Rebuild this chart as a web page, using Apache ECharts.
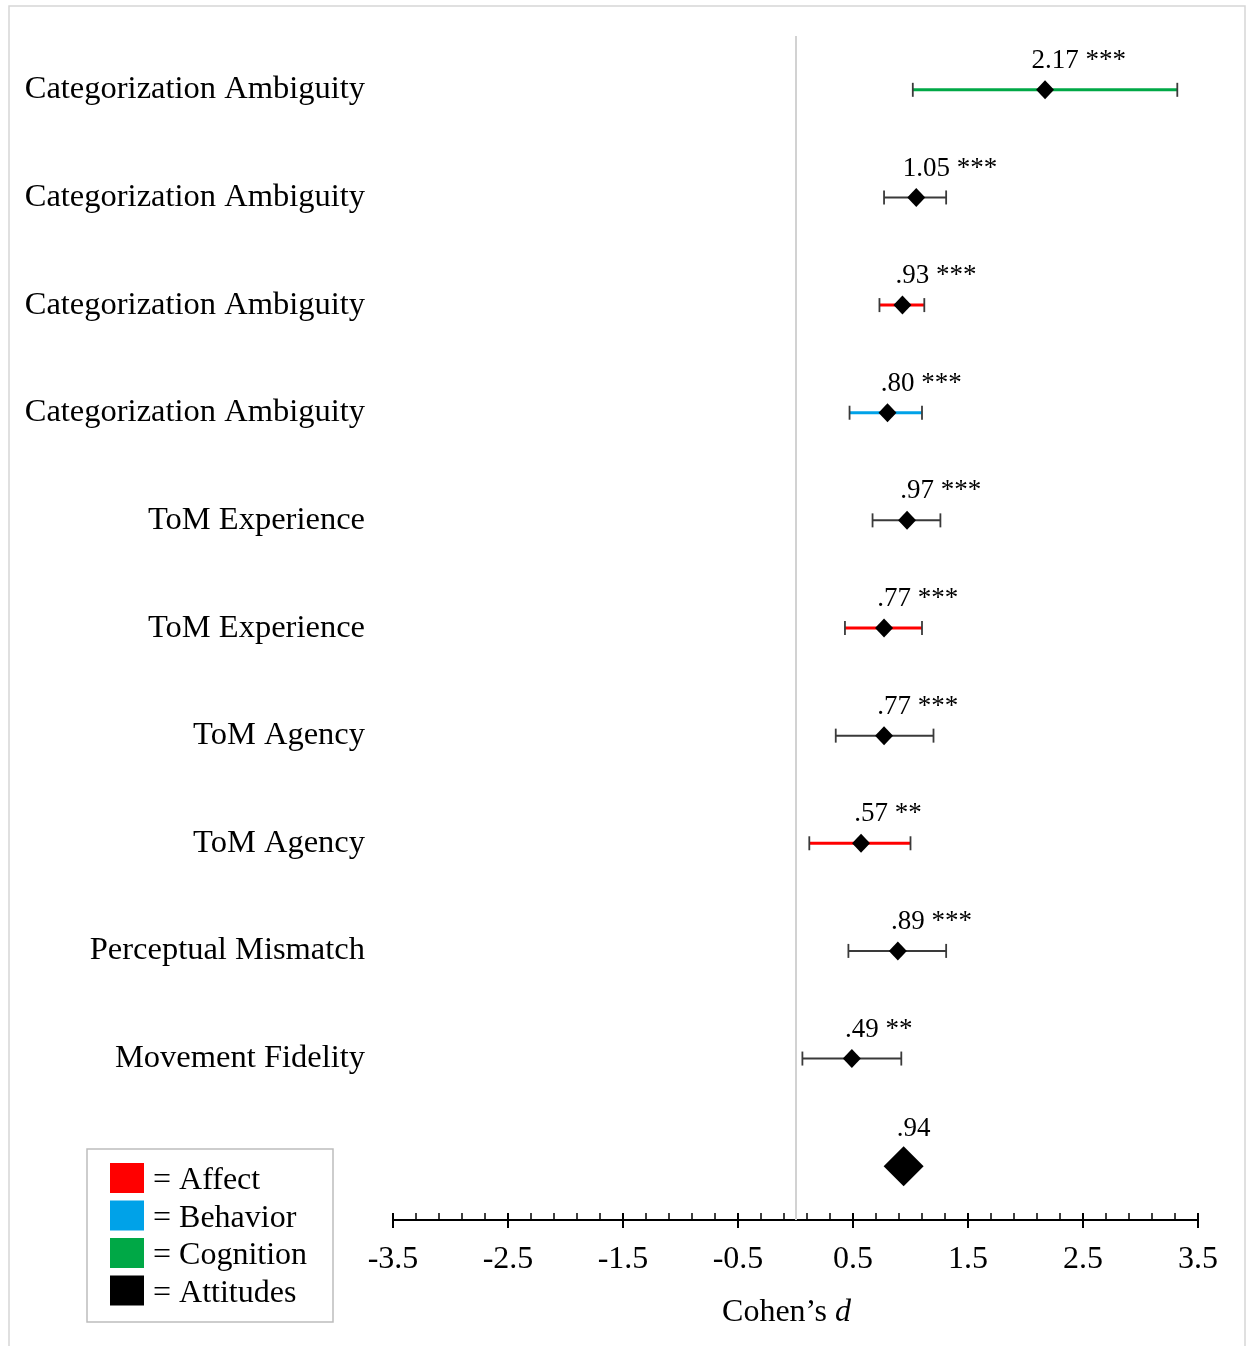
<!DOCTYPE html>
<html><head><meta charset="utf-8">
<script src="https://cdn.jsdelivr.net/npm/echarts@6/dist/echarts.min.js"></script>
<style>html,body{margin:0;padding:0;background:#fff}#c{width:1247px;height:1346px}</style>
</head><body><div id="c"></div>
<script>
// ---- data ----
const categories = ['Categorization Ambiguity','Categorization Ambiguity','Categorization Ambiguity','Categorization Ambiguity','ToM Experience','ToM Experience','ToM Agency','ToM Agency','Perceptual Mismatch','Movement Fidelity',''];
const effectD = [2.17, 1.05, 0.93, 0.80, 0.97, 0.77, 0.77, 0.57, 0.89, 0.49, 0.94];
const ciLow  = [1.02, 0.77, 0.73, 0.47, 0.67, 0.43, 0.35, 0.12, 0.46, 0.06, null];
const ciHigh = [3.32, 1.31, 1.12, 1.10, 1.26, 1.10, 1.20, 1.00, 1.31, 0.92, null];
const effectLabels = ['2.17','1.05','.93','.80','.97','.77','.77','.57','.89','.49','.94'];
const sigStars = ['***','***','***','***','***','***','***','**','***','**',''];
const domain = ['Cognition','Attitudes','Affect','Behavior','Attitudes','Affect','Attitudes','Affect','Attitudes','Attitudes','Summary'];
const legendNames = ['Affect','Behavior','Cognition','Attitudes'];
const xTickLabels = ['-3.5','-2.5','-1.5','-0.5','0.5','1.5','2.5','3.5'];
const xMin = -3.5, xMax = 3.5;

const FONT = "'Liberation Serif','Times New Roman',serif";
const domainColor = {Affect:'#ff0000', Behavior:'#00a2e8', Cognition:'#00a846', Attitudes:'#000000'};

const cv = document.createElement('canvas').getContext('2d');
cv.font = "27px 'Liberation Serif'";
function tw(s){ return cv.measureText(s).width; }

const nRows = categories.length;
const barData = [], markData = [], sumData = [], labData = [];
for (let i = 0; i < nRows; i++) {
  if (domain[i] === 'Summary') sumData.push([effectD[i], i]);
  else {
    barData.push([ciLow[i], i, ciHigh[i], i]);
    markData.push([effectD[i], i]);
  }
  labData.push([effectD[i], i, i]);
}

const chart = echarts.init(document.getElementById('c'), null, {renderer:'canvas'});
const tickAxisBase = {
  type:'value', gridIndex:0, position:'bottom', min:0, max:xTickLabels.length-1, interval:1,
  splitLine:{show:false}
};
chart.setOption({
  animation:false,
  backgroundColor:'#fff',
  grid:{left:393, right:49, top:36, bottom:126},
  xAxis:[
    {type:'value', min:xMin, max:xMax, show:false, splitLine:{show:false}},
    Object.assign({}, tickAxisBase, {
      axisLine:{show:true, lineStyle:{color:'#000', width:2}},
      axisTick:{show:true, inside:true, length:7, lineStyle:{color:'#000', width:2}},
      minorTick:{show:true, splitNumber:5, length:7, lineStyle:{color:'#000', width:1.5}},
      axisLabel:{show:true, margin:24, fontFamily:FONT, fontSize:32, color:'#000',
        formatter:(v, idx)=> xTickLabels[Math.round(v)]},
      name:'{n|Cohen’s }{i|d}', nameLocation:'middle', nameGap:77,
      nameTextStyle:{padding:[0,18,0,0], rich:{
        n:{fontFamily:FONT, fontSize:32, color:'#000'},
        i:{fontFamily:FONT, fontSize:32, color:'#000', fontStyle:'italic'}}}
    }),
    Object.assign({}, tickAxisBase, {
      axisLine:{show:false},
      axisTick:{show:true, inside:false, length:8, lineStyle:{color:'#000', width:2}},
      minorTick:{show:false},
      axisLabel:{show:false}
    })
  ],
  yAxis:{
    type:'category', data:categories, inverse:true,
    axisLine:{show:false}, axisTick:{show:false}, splitLine:{show:false},
    axisLabel:{margin:28, fontFamily:FONT, fontSize:32.5, color:'#000'}
  },
  series:[
    {
      type:'custom', xAxisIndex:0, yAxisIndex:0, data:barData,
      encode:{x:[0,2], y:1},
      renderItem:(params, api)=>{
        const row = api.value(3);
        const lo = api.coord([api.value(0), row]);
        const hi = api.coord([api.value(2), row]);
        const d = domain[row];
        const col = d === 'Attitudes' ? '#3a3a3a' : domainColor[d];
        const lw = d === 'Attitudes' ? 2 : 3;
        return {type:'group', children:[
          {type:'line', shape:{x1:lo[0], y1:lo[1], x2:hi[0], y2:hi[1]}, style:{stroke:col, lineWidth:lw}},
          {type:'line', shape:{x1:lo[0], y1:lo[1]-7, x2:lo[0], y2:lo[1]+7}, style:{stroke:'#3a3a3a', lineWidth:1.8}},
          {type:'line', shape:{x1:hi[0], y1:hi[1]-7, x2:hi[0], y2:hi[1]+7}, style:{stroke:'#3a3a3a', lineWidth:1.8}}
        ]};
      },
      markLine:{silent:true, symbol:'none', label:{show:false},
        lineStyle:{color:'#d2d2d2', width:2, type:'solid'}, data:[{xAxis:0}]},
      z:2
    },
    {
      type:'scatter', xAxisIndex:0, yAxisIndex:0, data:markData,
      symbol:'diamond', symbolSize:[18,19], itemStyle:{color:'#000', opacity:1}, z:3
    },
    {
      type:'scatter', xAxisIndex:0, yAxisIndex:0, data:sumData,
      symbol:'diamond', symbolSize:[40,40], itemStyle:{color:'#000', opacity:1}, z:3
    },
    {
      type:'custom', xAxisIndex:0, yAxisIndex:0, data:labData, encode:{x:0, y:1},
      renderItem:(params, api)=>{
        const row = api.value(2);
        const p = api.coord([api.value(0), row]);
        const num = effectLabels[row];
        const txt = sigStars[row] ? num + ' ' + sigStars[row] : num;
        const x0 = p[0] + 10 - tw(num)/2;
        const dy = domain[row] === 'Summary' ? -37 : -29;
        return {type:'text', x:x0, y:p[1]+dy, style:{text:txt, fontFamily:FONT, fontSize:27,
          fill:'#000', textAlign:'left', textVerticalAlign:'middle'}};
      },
      z:4
    }
  ],
  graphic:[
    {type:'rect', shape:{x:9, y:6, width:1236, height:1360}, style:{fill:'none', stroke:'#d6d6d6', lineWidth:1.5}, silent:true},
    {type:'rect', shape:{x:87, y:1149, width:246, height:173}, style:{fill:'#fff', stroke:'#bdbdbd', lineWidth:1.5}, silent:true}
  ].concat(legendNames.flatMap((n, k)=>{
    const cy = 1178 + k*37.5;
    return [
      {type:'rect', shape:{x:110, y:cy-15, width:34, height:30}, style:{fill:domainColor[n]}, silent:true},
      {type:'text', x:153, y:cy+3, style:{text:'= ' + n, fontFamily:FONT, fontSize:32, fill:'#000',
        textAlign:'left', textVerticalAlign:'middle'}, silent:true}
    ];
  }))
});
</script></body></html>
